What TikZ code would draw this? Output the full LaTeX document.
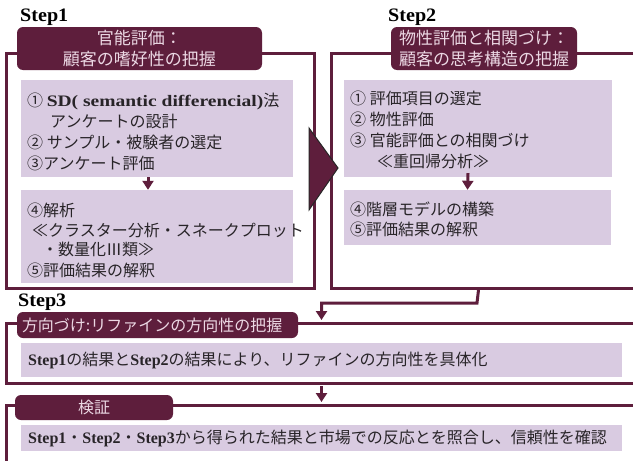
\documentclass[tikz,border=0pt]{standalone}
\usepackage{fontspec}
\setmainfont{Noto Sans CJK JP}
\newfontfamily\latf{Liberation Serif}
\newcommand\lat[1]{{\latf\bfseries #1}}
\usetikzlibrary{arrows.meta}
\definecolor{maroon}{RGB}{94,30,60}
\definecolor{lav}{RGB}{217,203,225}
\definecolor{ttxt}{RGB}{236,216,228}
\definecolor{btxt}{RGB}{40,36,40}
\tikzset{
  frame/.style={draw=maroon, line width=3pt, minimum width=#1, anchor=north west, inner sep=0pt},
  ttl/.style={fill=maroon, rounded corners=6pt, text=ttxt, inner sep=0pt, align=center, font=\fontsize{17}{20.5}\selectfont},
  lbox/.style={fill=lav, inner sep=0pt},
  btext/.style={anchor=west, inner sep=0pt, text=btxt, font=\fontsize{16}{19}\selectfont},
  steplbl/.style={anchor=west, inner sep=0pt, text=black, font=\latf\bfseries\fontsize{19}{21}\selectfont},
  arr/.style={draw=maroon, line width=3pt, -{Triangle[width=11pt,length=9pt]}},
}
\begin{document}
\begin{tikzpicture}[x=1pt,y=-1pt]
\path[use as bounding box] (0,0) rectangle (633,461);
\clip (0,0) rectangle (633,461);
\fill[white] (0,0) rectangle (633,461);

% frames
\node[frame=308pt, minimum height=235pt] (f1) at (5,52) {};
\node[frame=330pt, minimum height=235pt] (f2) at (330,52) {};
\node[frame=650pt, minimum height=60pt] (f3) at (5,322) {};
\node[frame=650pt, minimum height=80pt] (f4) at (5,404) {};

% step labels
\node[steplbl] (s1) at (20,17) {\scalebox{1.06}[1]{Step1}};
\node[steplbl] (s2) at (388,17) {\scalebox{1.06}[1]{Step2}};
\node[steplbl] (s3) at (18,302) {\scalebox{1.06}[1]{Step3}};

% title boxes
\node[ttl, minimum width=245pt, minimum height=43pt] (t1) at (139.5,48.5) {官能評価：\\顧客の嗜好性の把握};
\node[ttl, minimum width=186pt, minimum height=43pt] (t2) at (484,48.5) {物性評価と相関づけ：\\顧客の思考構造の把握};
\node[ttl, minimum width=281pt, minimum height=26pt, text width=271pt, align=left, font=\fontsize{16}{18}\selectfont] (t3) at (157.5,325) {方向づけ:リファインの方向性の把握};
\node[ttl, minimum width=158pt, minimum height=25pt, font=\fontsize{16}{18}\selectfont] (t4) at (94,407.5) {検証};

% lavender boxes
\node[lbox, minimum width=272pt, minimum height=97pt] (b1a) at (157,128.5) {};
\node[lbox, minimum width=272pt, minimum height=93pt] (b1b) at (157,236.5) {};
\node[lbox, minimum width=268pt, minimum height=97pt] (b2a) at (478,128.5) {};
\node[lbox, minimum width=267pt, minimum height=55pt] (b2b) at (477.5,217.5) {};
\node[lbox, minimum width=601pt, minimum height=34pt] (b3) at (321.5,360) {};
\node[lbox, minimum width=601pt, minimum height=26pt] (b4) at (321.5,438) {};

% step1 texts
\node[btext] (l11) at (27,101) {① \lat{\scalebox{1.22}[1]{SD( semantic differencial)}}法};
\node[btext] (l12) at (50,121) {アンケートの設計};
\node[btext] (l13) at (27,142) {② サンプル・被験者の選定};
\node[btext] (l14) at (27,163) {③アンケート評価};
\node[btext] (l15) at (27,210) {④解析};
\node[btext] (l16) at (32,230) {≪クラスター分析・スネークプロット};
\node[btext] (l17) at (42,249) {・数量化Ⅲ類≫};
\node[btext] (l18) at (27,270) {⑤評価結果の解釈};

% step2 texts
\node[btext] (l21) at (350,98) {① 評価項目の選定};
\node[btext] (l22) at (350,119) {② 物性評価};
\node[btext] (l23) at (350,140) {③ 官能評価との相関づけ};
\node[btext] (l24) at (377,161) {≪重回帰分析≫};
\node[btext] (l25) at (350,209) {④階層モデルの構築};
\node[btext] (l26) at (350,229) {⑤評価結果の解釈};

% step3/4 texts
\node[btext] (l31) at (28,360) {\lat{Step1}の結果と\lat{Step2}の結果により、リファインの方向性を具体化};
\node[btext] (l41) at (28,438) {\lat{Step1}・\lat{Step2}・\lat{Step3}から得られた結果と市場での反応とを照合し、信頼性を確認};

% small arrows
\draw[arr] ([xshift=-9pt]b1a.south) -- ([xshift=-9pt]b1b.north);
\draw[arr] ([xshift=-10pt,yshift=4pt]b2a.south) -- ([xshift=-10pt]b2b.north);

% big triangle
\coordinate (tA) at (309,128);
\coordinate (tB) at (338,168);
\coordinate (tC) at (309,210);
\filldraw[fill=maroon, draw=black!85, line width=1pt] (tA) -- (tB) -- (tC) -- cycle;

% connectors
\coordinate (j1) at (477,303);
\draw[arr, shorten >=2pt] ([xshift=-18pt]f2.south) -- (j1) -| ([xshift=-10pt]f3.north);
\draw[arr, shorten >=2pt, shorten <=1pt] ([xshift=-10pt]f3.south) -- ([xshift=-10pt]f4.north);
\end{tikzpicture}
\end{document}
